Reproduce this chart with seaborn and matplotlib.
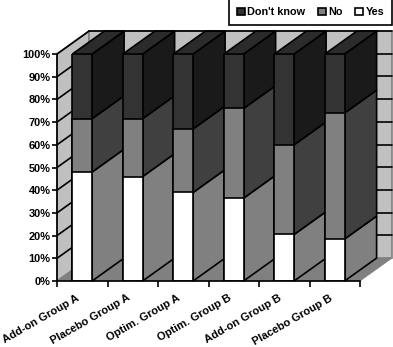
import matplotlib
matplotlib.use('Agg')
import matplotlib.pyplot as plt
from matplotlib.patches import Patch
from matplotlib.transforms import ScaledTranslation
import seaborn as sns

groups = ['Add-on Group A', 'Placebo Group A', 'Optim. Group A',
          'Optim. Group B', 'Add-on Group B', 'Placebo Group B']
yes = [48, 46, 39, 36.5, 20.5, 18.5]
no = [23.5, 25.5, 28, 39.5, 39.5, 55.5]
dont_know = [28.5, 28.5, 33, 24, 40, 26]
pct_ticks = list(range(0, 101, 10))

# how far the fake 3D depth reaches, in data units
DX = 0.634
DY = 10.1
BAR_W = 0.39
LW = 1.2

sns.set_theme(style='white')
plt.rcParams['font.family'] = ['Liberation Sans', 'DejaVu Sans']
plt.rcParams['font.weight'] = 'bold'
plt.rcParams['text.color'] = 'black'
plt.rcParams['xtick.color'] = 'black'
plt.rcParams['ytick.color'] = 'black'

fig = plt.figure(figsize=(3.93, 3.47), dpi=100)
ax = fig.add_axes([57 / 393, 66 / 347, 303 / 393, 227 / 347])

# walls and floor
ax.fill([-0.5, -0.5 + DX, -0.5 + DX, -0.5], [0, DY, 100 + DY, 100],
        facecolor='#c0c0c0', edgecolor='#808080', lw=1.2, zorder=1, clip_on=False)
ax.fill([-0.5 + DX, 5.5 + DX, 5.5 + DX, -0.5 + DX], [DY, DY, 100 + DY, 100 + DY],
        facecolor='#c0c0c0', edgecolor='#808080', lw=1.2, zorder=1, clip_on=False)
ax.fill([-0.5, 5.5, 5.5 + DX, -0.5 + DX], [0, 0, DY, DY],
        facecolor='#808080', edgecolor='#808080', lw=0.5, zorder=1.5, clip_on=False)

# gridlines on the walls
for p in pct_ticks[1:]:
    ax.plot([-0.5, -0.5 + DX], [p, p + DY], color='black', lw=LW, zorder=2, clip_on=False)
    ax.plot([-0.5 + DX, 5.5 + DX], [p + DY, p + DY], color='black', lw=LW, zorder=2, clip_on=False)

layers = [
    (yes, '#ffffff', '#808080'),
    (no, '#808080', '#404040'),
    (dont_know, '#333333', '#1a1a1a'),
]

# side faces, one segment per layer
for i in range(len(groups)):
    right = i + BAR_W / 2
    base = 0
    for values, front, side in layers:
        top = base + values[i]
        ax.fill([right, right + DX, right + DX, right],
                [base, base + DY, top + DY, top],
                facecolor=side, edgecolor='black', lw=LW, zorder=3, clip_on=False)
        base = top
    left = i - BAR_W / 2
    ax.fill([left, right, right + DX, left + DX],
            [base, base, base + DY, base + DY],
            facecolor='#2b2b2b', edgecolor='black', lw=LW, zorder=3, clip_on=False)

# front faces: tallest first so the lower layers sit on top
totals = [y + n + d for y, n, d in zip(yes, no, dont_know)]
yes_no = [y + n for y, n in zip(yes, no)]
for heights, color in [(totals, '#333333'), (yes_no, '#808080'), (yes, '#ffffff')]:
    sns.barplot(x=groups, y=heights, color=color, saturation=1, width=BAR_W,
                edgecolor='black', linewidth=LW, zorder=4, ax=ax)

ax.set_xlim(-0.5, 5.5)
ax.set_ylim(0, 100)
for side in ['top', 'right']:
    ax.spines[side].set_visible(False)
for side in ['left', 'bottom']:
    ax.spines[side].set_linewidth(LW)
    ax.spines[side].set_color('black')
    ax.spines[side].set_zorder(5)

ax.set_yticks(pct_ticks)
ax.set_yticklabels([f'{p}%' for p in pct_ticks])
ax.tick_params(axis='y', left=True, length=3.6, width=LW, pad=1, color='black', labelsize=7.9)

# tick marks between the groups, labels under the bar centres
ax.set_xticks([i - 0.5 for i in range(len(groups) + 1)])
ax.set_xticklabels([])
ax.tick_params(axis='x', which='major', bottom=True, length=4.3, width=LW, color='black')
ax.set_xticks(range(len(groups)), minor=True)
ax.set_xticklabels(groups, minor=True, rotation=30, ha='right', rotation_mode='anchor')
ax.tick_params(axis='x', which='minor', bottom=False, length=0, pad=8.5, labelsize=8.0)
shift = ScaledTranslation(-6 / 100, 0, fig.dpi_scale_trans)
for label in ax.get_xticklabels(minor=True):
    label.set_transform(label.get_transform() + shift)
ax.set_xlabel('')
ax.set_ylabel('')

handles = [Patch(facecolor='#333333', edgecolor='black', lw=1.2, label="Don't know"),
           Patch(facecolor='#808080', edgecolor='black', lw=1.2, label='No'),
           Patch(facecolor='#ffffff', edgecolor='black', lw=1.2, label='Yes')]
leg = fig.legend(handles=handles, ncol=3, loc='upper left', bbox_to_anchor=(229 / 393, 1.003),
                 fancybox=False, framealpha=1, edgecolor='black', borderaxespad=0,
                 handlelength=0.7, handleheight=0.7, handletextpad=0.25, columnspacing=1.15,
                 borderpad=0.75, fontsize=7.8)
leg.get_frame().set_linewidth(1.2)

fig.savefig('out.png', dpi=100)
